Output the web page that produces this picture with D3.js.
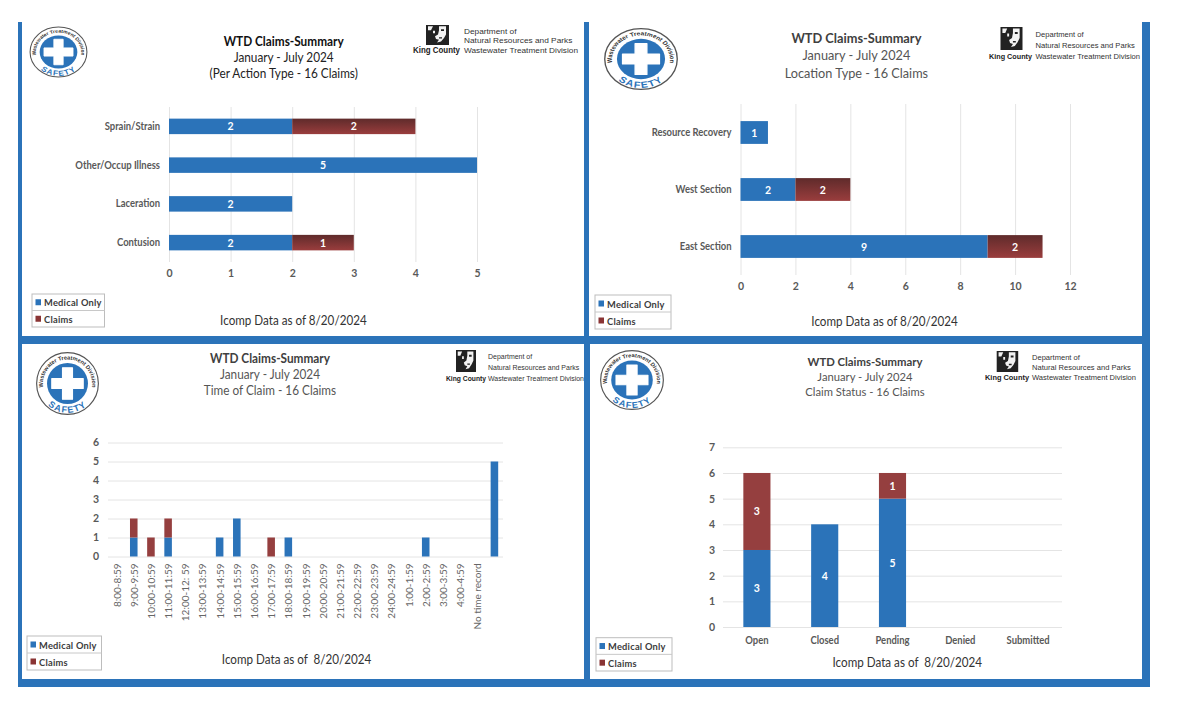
<!DOCTYPE html>
<html><head><meta charset="utf-8">
<script src="https://cdn.jsdelivr.net/npm/d3@7"></script>
<style>html,body{margin:0;padding:0;background:#fff}svg{display:block}text{white-space:pre}</style>
</head><body><svg id="c" width="1180" height="716"></svg>
<script>
// ---- data ----
const seriesNames = ["Medical Only", "Claims"];
const actionCategories = ["Sprain/Strain", "Other/Occup Illness", "Laceration", "Contusion"];
const actionMedical = [2, 5, 2, 2];
const actionClaims = [2, 0, 0, 1];
const locationCategories = ["Resource Recovery", "West Section", "East Section"];
const locationMedical = [1, 2, 9];
const locationClaims = [0, 2, 2];
const timeCategories = ["8:00-8:59","9:00-9:59","10:00-10:59","11:00-11:59","12:00-12: 59","13:00-13:59","14:00-14:59","15:00-15:59","16:00-16:59","17:00-17:59","18:00-18:59","19:00-19:59","20:00-20:59","21:00-21:59","22:00-22:59","23:00-23:59","24:00-24:59","1:00-1:59","2:00-2:59","3:00-3:59","4:00-4:59","No time record",""];
const timeMedical = [0,1,0,1,0,0,1,2,0,0,1,0,0,0,0,0,0,0,1,0,0,0,5];
const timeClaims  = [0,1,1,1,0,0,0,0,0,1,0,0,0,0,0,0,0,0,0,0,0,0,0];
const statusCategories = ["Open","Closed","Pending","Denied","Submitted"];
const statusMedical = [3,4,5,0,0];
const statusClaims  = [3,0,1,0,0];
const titleMain = "WTD Claims-Summary";
const titlePeriod = "January - July 2024";
const subtitles = ["(Per Action Type - 16 Claims)", "Location Type - 16 Claims", "Time of Claim - 16 Claims", "Claim Status - 16 Claims"];
const footers = ["Icomp Data as of 8/20/2024", "Icomp Data as of 8/20/2024", "Icomp Data as of  8/20/2024", "Icomp Data as of  8/20/2024"];
const deptLines = ["Department of", "Natural Resources and Parks", "Wastewater Treatment Division"];
const agencyName = "King County";

// ---- style ----
const BLUE = "#2b73b9", RED = "#953f3f", GRID = "#e4e4e4", AXIS = "#595959";
const FONT = "Lato, 'Open Sans', sans-serif";
const ARIAL = "'Liberation Sans',sans-serif";
const svg = d3.select("#c");
const defs = svg.append("defs");
const grad = defs.append("linearGradient").attr("id","redGrad").attr("x1",0).attr("y1",0).attr("x2",0).attr("y2",1);
grad.append("stop").attr("offset","0%").attr("stop-color","#5f2b2b");
grad.append("stop").attr("offset","100%").attr("stop-color","#9a3d3d");

// narrow a text horizontally so Lato takes the width of the reference's narrower face
function condense(sel, factor){
  sel.each(function(){
    const n = this.getComputedTextLength();
    if(n>0) d3.select(this).attr("textLength",n*factor).attr("lengthAdjust","spacingAndGlyphs");
  });
  return sel;
}

// ---- frame ----
const frame = [[18,22,4,665],[584,22,5,322],[1142,22,8,665],[18,336,1132,8],[18,679,1132,8],[584,344,6,335]];
svg.selectAll("rect.frame").data(frame).join("rect").attr("class","frame")
  .attr("x",d=>d[0]).attr("y",d=>d[1]).attr("width",d=>d[2]).attr("height",d=>d[3]).attr("fill",BLUE);

// ---- pieces ----
let uid = 0;
function safetyLogo(cx, cy, rx, ry){
  const g = svg.append("g").attr("transform",`translate(${cx},${cy}) scale(${rx/30},${ry/30})`);
  g.append("circle").attr("r",29.4).attr("fill","#fff").attr("stroke","#555").attr("stroke-width",1.1);
  g.append("circle").attr("r",19.5).attr("fill",BLUE);
  g.append("path").attr("d","M-4.8,-15H4.8V-4.8H15V4.8H4.8V15H-4.8V4.8H-15V-4.8H-4.8Z").attr("fill","#fff").attr("stroke","#fff").attr("stroke-linejoin","round");
  const a = "arcTop"+(++uid), b = "arcBot"+uid;
  defs.append("path").attr("id",a).attr("d","M-20,13 A23.5,23.5 0 1 1 20,13");
  defs.append("path").attr("id",b).attr("d","M-26.5,9 A28,28 0 0 0 26.5,9");
  g.append("text").attr("font-family",ARIAL).attr("font-size",5.4).attr("font-weight","bold").attr("fill","#333")
    .append("textPath").attr("href","#"+a).attr("startOffset","50%").attr("text-anchor","middle").text("Wastewater Treatment Division");
  g.append("text").attr("font-family",ARIAL).attr("font-size",8.6).attr("font-weight","bold").attr("fill",BLUE).attr("letter-spacing",1.1)
    .append("textPath").attr("href","#"+b).attr("startOffset","50%").attr("text-anchor","middle").text("SAFETY");
}
function kcLogo(rx, ry, rw, rh, kcX, kcW, deptX, deptW, ys){
  const g = svg.append("g");
  g.append("rect").attr("x",rx).attr("y",ry).attr("width",rw).attr("height",rh).attr("fill","#222");
  const p = g.append("g").attr("transform",`translate(${rx},${ry}) scale(${rw/23},${rh/23})`);
  // stylised portrait
  p.append("path").attr("d","M13,1.5H20V11L18,15L15,19L11,20L13,17L10,16L9,13L12,11L13,6Z").attr("fill","#f2f2f2");
  p.append("path").attr("d","M15,5H18V7H15Z M13,14H16V15.5H13Z").attr("fill","#222");
  p.append("path").attr("d","M2,1.5H7L5,6H2Z M7,6.5H9V9.5H7Z").attr("fill","#f2f2f2");
  g.append("text").attr("x",kcX).attr("y",ys[2]).attr("dominant-baseline","central")
    .attr("font-family",ARIAL).attr("font-size",8.3*kcW/47).attr("font-weight","bold").attr("fill","#222")
    .attr("textLength",kcW).attr("lengthAdjust","spacingAndGlyphs").text(agencyName);
  deptLines.forEach((t,i)=>g.append("text").attr("x",deptX).attr("y",ys[i]).attr("dominant-baseline","central")
    .attr("font-family",ARIAL).attr("font-size",8.1*deptW/114).attr("fill","#333")
    .attr("textLength",deptW*[0.46,0.95,1][i]).attr("lengthAdjust","spacingAndGlyphs").text(t));
}
function titles(cx, ys, size, mainW, main, col, mainWeight, subtitle){
  svg.append("text").attr("x",cx).attr("y",ys[0]).attr("text-anchor","middle").attr("dominant-baseline","central")
    .attr("font-family",FONT).attr("font-size",size).attr("font-weight",mainWeight).attr("fill",main).attr("textLength",mainW).attr("lengthAdjust","spacingAndGlyphs").text(titleMain);
  [titlePeriod, subtitle].forEach((t,i)=>condense(svg.append("text").attr("x",cx).attr("y",ys[i+1]).attr("text-anchor","middle").attr("dominant-baseline","central")
    .attr("font-family",FONT).attr("font-size",size).attr("fill",col).text(t),.935));
}
function footer(cx, y, t){
  condense(svg.append("text").attr("x",cx).attr("y",y).attr("text-anchor","middle").attr("dominant-baseline","central")
    .attr("font-family",FONT).attr("font-size",12.6).attr("fill","#333").text(t),.925);
}
function legend(x0, x1, y0, y1){
  const g = svg.append("g");
  const m = (y0+y1)/2;
  g.append("rect").attr("x",x0).attr("y",y0).attr("width",x1-x0).attr("height",y1-y0).attr("fill","#fff").attr("stroke","#bdbdbd");
  g.append("line").attr("x1",x0).attr("x2",x1).attr("y1",m).attr("y2",m).attr("stroke","#c8c8c8");
  seriesNames.forEach((s,i)=>{
    const cy = i? (m+y1)/2 : (y0+m)/2;
    g.append("rect").attr("x",x0+3.5).attr("y",cy-3).attr("width",5.5).attr("height",6).attr("fill",i?"#8a3434":BLUE);
    condense(g.append("text").attr("x",x0+12).attr("y",cy).attr("dominant-baseline","central").attr("font-family",FONT)
      .attr("font-size",10).attr("font-weight","bold").attr("fill","#3c3c3c").attr("letter-spacing",0.25).text(s),.93);
  });
}
function styleAxis(g, size){
  g.select(".domain").remove();
  g.selectAll("text").attr("font-family",FONT).attr("font-size",size).attr("font-weight","bold").attr("fill",AXIS);
}
function labelsOf(g, rows){
  g.selectAll("text.dl").data(rows.filter(d=>d.v>0)).join("text").attr("class","dl")
    .attr("x",d=>d.x).attr("y",d=>d.y).attr("text-anchor","middle").attr("dominant-baseline","central")
    .attr("font-family",FONT).attr("font-size",10.5).attr("font-weight","bold").attr("fill","#fff").text(d=>d.v);
}
function hChart(o){
  const x = d3.scaleLinear().domain([0,o.max]).range([o.x0,o.x1]);
  const y = d3.scaleBand().domain(o.cats).range([o.y0,o.y1]).paddingInner(.6).paddingOuter(.3);
  const g = svg.append("g");
  g.append("g").attr("transform",`translate(0,${o.y1})`).call(d3.axisBottom(x).ticks(o.ticks).tickSize(o.y0-o.y1).tickFormat(""))
    .call(a=>{a.select(".domain").remove();a.selectAll("line").attr("stroke",GRID)});
  g.selectAll("rect.m").data(o.cats).join("rect").attr("class","m").attr("x",x(0)).attr("y",d=>y(d)).attr("height",y.bandwidth())
    .attr("width",(d,i)=>x(o.med[i])-x(0)).attr("fill",BLUE);
  g.selectAll("rect.c").data(o.cats).join("rect").attr("class","c").attr("x",(d,i)=>x(o.med[i])).attr("y",d=>y(d)).attr("height",y.bandwidth())
    .attr("width",(d,i)=>x(o.med[i]+o.cl[i])-x(o.med[i])).attr("fill","url(#redGrad)");
  const rows=[];
  o.cats.forEach((c,i)=>{
    rows.push({v:o.med[i],x:x(o.med[i]/2),y:y(c)+y.bandwidth()/2});
    rows.push({v:o.cl[i],x:x(o.med[i]+o.cl[i]/2),y:y(c)+y.bandwidth()/2});
  });
  labelsOf(g,rows);
  const la = g.append("g").attr("transform",`translate(${o.x0},0)`).call(d3.axisLeft(y).tickSize(0).tickPadding(9)).call(a=>styleAxis(a,10.5));
  condense(la.selectAll("text"),.9);
  g.append("g").attr("transform",`translate(0,${o.axisY})`).call(d3.axisBottom(x).ticks(o.ticks).tickSize(0).tickPadding(0).tickFormat(d3.format("d"))).call(a=>styleAxis(a,10.5));
}
function vChart(o){
  const x = d3.scaleBand().domain(d3.range(o.cats.length)).range([o.x0,o.x1]).paddingInner(o.pad).paddingOuter(o.pad/2);
  const y = d3.scaleLinear().domain([0,o.max]).range([o.y0,o.y1]);
  const g = svg.append("g");
  g.append("g").attr("transform",`translate(${o.x0},0)`).call(d3.axisRight(y).ticks(o.max).tickSize(o.x1-o.x0).tickFormat(""))
    .call(a=>{a.select(".domain").remove();a.selectAll("line").attr("stroke",GRID)});
  g.selectAll("rect.m").data(o.cats).join("rect").attr("class","m").attr("x",(d,i)=>x(i)).attr("width",x.bandwidth())
    .attr("y",(d,i)=>y(o.med[i])).attr("height",(d,i)=>y(0)-y(o.med[i])).attr("fill",BLUE);
  g.selectAll("rect.c").data(o.cats).join("rect").attr("class","c").attr("x",(d,i)=>x(i)).attr("width",x.bandwidth())
    .attr("y",(d,i)=>y(o.med[i]+o.cl[i])).attr("height",(d,i)=>y(o.med[i])-y(o.med[i]+o.cl[i])).attr("fill",RED);
  if(o.labels){
    const rows=[];
    o.cats.forEach((c,i)=>{
      rows.push({v:o.med[i],x:x(i)+x.bandwidth()/2,y:y(o.med[i]/2)});
      rows.push({v:o.cl[i],x:x(i)+x.bandwidth()/2,y:y(o.med[i]+o.cl[i]/2)});
    });
    labelsOf(g,rows);
  }
  g.append("g").attr("transform",`translate(${o.x0-o.yGap},0)`).call(d3.axisLeft(y).ticks(o.max).tickSize(0).tickPadding(0).tickFormat(d3.format("d"))).call(a=>styleAxis(a,10.5));
  const ax = g.append("g").attr("transform",`translate(0,${o.y0})`).call(d3.axisBottom(x).tickSize(0).tickFormat(i=>o.cats[i]));
  styleAxis(ax,o.rotate?10:10.5);
  if(o.rotate){
    ax.selectAll("text").attr("font-weight","normal").attr("fill","#666").attr("text-anchor","end").attr("dy",null).attr("dominant-baseline","central")
      .attr("transform","translate(0,7) rotate(-90)").attr("x",0).attr("y",0);
  } else {
    ax.selectAll("text").attr("dy",null).attr("dominant-baseline","central").attr("y",o.labelGap);
    condense(ax.selectAll("text"),.9);
  }
}

// ---- panel 1 ----
safetyLogo(58.5,52,29,25.5);
kcLogo(426,25,23,20,413,47,464,114,[31,40,50]);
titles(283.7,[41,57,73],12.6,120,"#111","#222","bold",subtitles[0]);
hChart({cats:actionCategories,med:actionMedical,cl:actionClaims,max:5,ticks:5,x0:169,x1:477,y0:107,y1:262,axisY:270});
legend(32,104.5,294,327);
footer(293.4,320,footers[0]);

// ---- panel 2 ----
safetyLogo(641,59,37,31);
kcLogo(1000.5,27,22,23,989,43,1035.5,104.5,[34,45,56]);
titles(856.4,[38,55,72.5],13.6,130,"#404040","#555","bold",subtitles[1]);
hChart({cats:locationCategories,med:locationMedical,cl:locationClaims,max:12,ticks:6,x0:740.5,x1:1070,y0:104,y1:275,axisY:283});
legend(595,671,295,329);
footer(884.6,321,footers[1]);

// ---- panel 3 ----
safetyLogo(67.5,383.5,31.5,31.5);
kcLogo(456,350,20,22,446,40,488,96,[356,367,378]);
titles(270,[358,374,390],12.6,120,"#404040","#555","bold",subtitles[2]);
vChart({cats:timeCategories,med:timeMedical,cl:timeClaims,max:6,x0:108,x1:503,y0:556.5,y1:442.5,pad:.56,yGap:9,rotate:true,labels:false});
legend(27,101.5,636,670);
footer(296.6,659,footers[2]);

// ---- panel 4 ----
safetyLogo(632,380,32,30);
kcLogo(996.7,351,21.5,21,985,44,1032,104,[357,367,377]);
titles(865,[361.7,376.7,391.3],12,115,"#404040","#555","bold",subtitles[3]);
vChart({cats:statusCategories,med:statusMedical,cl:statusClaims,max:7,x0:723,x1:1062,y0:627,y1:447.3,pad:.6,yGap:8,rotate:false,labelGap:13,labels:true});
legend(596,672,637.7,671);
footer(907.3,662.7,footers[3]);
</script></body></html>
